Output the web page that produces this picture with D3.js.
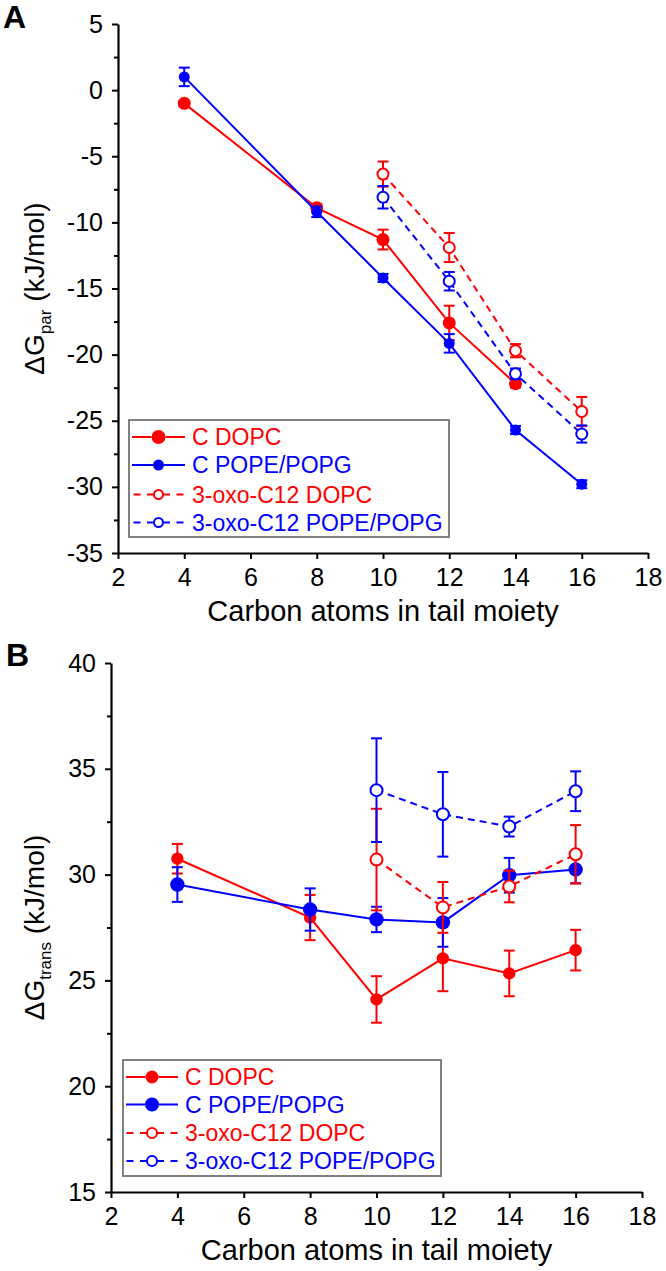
<!DOCTYPE html>
<html><head><meta charset="utf-8">
<script src="https://cdn.jsdelivr.net/npm/d3@7/dist/d3.min.js"></script>
<style>
body{margin:0;background:#fff}
text{font-family:"Liberation Sans",Arial,Helvetica,sans-serif}
</style>
</head><body>
<svg id="chart" width="666" height="1271" style="background:#fff"></svg>
<script>
// ---------- data ----------
const xTicks = [2, 4, 6, 8, 10, 12, 14, 16, 18];
const seriesNames = ["C DOPC", "C POPE/POPG", "3-oxo-C12 DOPC", "3-oxo-C12 POPE/POPG"];
const seriesColors = ["#ff0000", "#0000ff", "#ff0000", "#0000ff"];

// Panel A: ΔG_par (kJ/mol)
const parCDopcX   = [4, 8, 10, 12, 14];
const parCDopcY   = [-1.0, -8.9, -11.3, -17.6, -22.2];
const parCDopcErr = [0.2, 0.3, 0.75, 1.3, 0.3];
const parCPopeX   = [4, 8, 10, 12, 14, 16];
const parCPopeY   = [1.0, -9.2, -14.2, -19.15, -25.7, -29.8];
const parCPopeErr = [0.7, 0.4, 0.3, 0.7, 0.3, 0.3];
const parOxoDopcX   = [10, 12, 14, 16];
const parOxoDopcY   = [-6.35, -11.9, -19.7, -24.3];
const parOxoDopcErr = [0.95, 1.1, 0.5, 1.1];
const parOxoPopeX   = [10, 12, 14, 16];
const parOxoPopeY   = [-8.1, -14.45, -21.45, -26.0];
const parOxoPopeErr = [0.85, 0.7, 0.4, 0.65];
const parYTicks = [5, 0, -5, -10, -15, -20, -25, -30, -35];

// Panel B: ΔG_trans (kJ/mol)
const transCDopcX   = [4, 8, 10, 12, 14, 16];
const transCDopcY   = [30.75, 27.97, 24.1, 26.04, 25.33, 26.43];
const transCDopcErr = [0.7, 1.07, 1.1, 1.55, 1.08, 0.96];
const transCPopeX   = [4, 8, 10, 12, 14, 16];
const transCPopeY   = [29.53, 28.35, 27.88, 27.74, 29.97, 30.24];
const transCPopeErr = [0.82, 1.0, 0.6, 1.15, 0.82, 0.65];
const transOxoDopcX   = [10, 12, 14, 16];
const transOxoDopcY   = [30.71, 28.45, 29.44, 30.96];
const transOxoDopcErr = [2.4, 1.2, 0.75, 1.38];
const transOxoPopeX   = [10, 12, 14, 16];
const transOxoPopeY   = [33.99, 32.85, 32.27, 33.94];
const transOxoPopeErr = [2.45, 2.0, 0.47, 0.94];
const transYTicks = [15, 20, 25, 30, 35, 40];

// ---------- drawing ----------
const svg = d3.select("#chart");
const FONT = '"Liberation Sans",Arial,Helvetica,sans-serif';
const plainFmt = d => String(d);

function zip(xs, ys, es) { return xs.map((x, i) => ({x, y: ys[i], e: es[i]})); }

function drawPanel(cfg) {
  const g = svg.append("g");
  const x = d3.scaleLinear().domain([2, 18]).range(cfg.xRange);
  const y = d3.scaleLinear().domain(cfg.yDomain).range(cfg.yRange);

  // minor y ticks
  const minor = [];
  for (let i = 0; i < cfg.yTicks.length - 1; i++) {
    const a = Math.min(cfg.yTicks[i], cfg.yTicks[i+1]);
    minor.push(a + 2.5);
  }
  g.append("g").attr("transform", `translate(${cfg.xRange[0]},0)`)
    .call(d3.axisLeft(y).tickValues(minor).tickSize(4).tickFormat(""))
    .call(s => s.select(".domain").remove())
    .call(s => s.selectAll("line").attr("stroke", "#000").attr("stroke-width", 2));

  const ya = g.append("g").attr("transform", `translate(${cfg.xRange[0]},0)`)
    .call(d3.axisLeft(y).tickValues(cfg.yTicks).tickFormat(plainFmt).tickSize(6).tickSizeOuter(0).tickPadding(9));
  ya.select(".domain").attr("stroke-width", 2.2);
  ya.selectAll(".tick line").attr("stroke-width", 2);
  ya.selectAll("text").attr("font-size", 25).attr("font-family", FONT).attr("fill", "#000");

  const xa = g.append("g").attr("transform", `translate(0,${cfg.yRange[0]})`)
    .call(d3.axisBottom(x).tickValues(xTicks).tickFormat(plainFmt).tickSize(6).tickSizeOuter(0).tickPadding(9));
  xa.select(".domain").attr("stroke-width", 2.2);
  xa.selectAll(".tick line").attr("stroke-width", 2);
  xa.selectAll("text").attr("font-size", 25).attr("font-family", FONT).attr("fill", "#000");

  // axis titles
  g.append("text").attr("x", (cfg.xRange[0] + cfg.xRange[1]) / 2).attr("y", cfg.xTitleY)
    .attr("text-anchor", "middle").attr("font-size", 29).text("Carbon atoms in tail moiety");
  const yt = g.append("text")
    .attr("transform", `translate(${cfg.yTitleX},${(cfg.yRange[0] + cfg.yRange[1]) / 2}) rotate(-90)`)
    .attr("text-anchor", "middle").attr("font-size", 28);
  yt.append("tspan").text("\u0394G");
  yt.append("tspan").attr("font-size", 17).attr("dy", 7).text(cfg.sub);
  yt.append("tspan").attr("dy", -7).text(" (kJ/mol)");

  // panel letter
  g.append("text").attr("x", cfg.letterPos[0]).attr("y", cfg.letterPos[1])
    .attr("font-size", 32).attr("font-weight", "bold").text(cfg.letter);

  // series
  const line = d3.line().x(d => x(d.x)).y(d => y(d.y));
  cfg.series.forEach((s, i) => {
    const col = seriesColors[i];
    const dashed = i >= 2;
    const sg = g.append("g");
    sg.append("path").datum(s).attr("d", line).attr("fill", "none")
      .attr("stroke", col).attr("stroke-width", 2)
      .attr("stroke-dasharray", dashed ? "7,5" : null);
    // error bars
    const eb = sg.selectAll(".eb").data(s).enter().append("g");
    eb.append("line").attr("x1", d => x(d.x)).attr("x2", d => x(d.x))
      .attr("y1", d => y(d.y + d.e)).attr("y2", d => y(d.y - d.e))
      .attr("stroke", col).attr("stroke-width", 2);
    eb.append("line").attr("x1", d => x(d.x) - 5.5).attr("x2", d => x(d.x) + 5.5)
      .attr("y1", d => y(d.y + d.e)).attr("y2", d => y(d.y + d.e))
      .attr("stroke", col).attr("stroke-width", 2);
    eb.append("line").attr("x1", d => x(d.x) - 5.5).attr("x2", d => x(d.x) + 5.5)
      .attr("y1", d => y(d.y - d.e)).attr("y2", d => y(d.y - d.e))
      .attr("stroke", col).attr("stroke-width", 2);
    sg.selectAll("circle").data(s).enter().append("circle")
      .attr("cx", d => x(d.x)).attr("cy", d => y(d.y)).attr("r", cfg.radii[i])
      .attr("fill", dashed ? "#fff" : col).attr("stroke", col)
      .attr("stroke-width", dashed ? 2 : 0);
  });

  // legend
  const L = cfg.legend;
  const lg = g.append("g");
  lg.append("rect").attr("x", L.box[0]).attr("y", L.box[1]).attr("width", L.box[2]).attr("height", L.box[3])
    .attr("fill", "#fff").attr("stroke", "#808080").attr("stroke-width", 2);
  seriesNames.forEach((name, i) => {
    const col = seriesColors[i];
    const dashed = i >= 2;
    const ry = L.rows[i];
    const cx = (L.lineX[0] + L.lineX[1]) / 2;
    const r = L.radii[i];
    // two halves drawn outward from the marker so dashes touch it on both sides
    lg.append("line").attr("x1", cx - r).attr("x2", L.lineX[0]).attr("y1", ry).attr("y2", ry)
      .attr("stroke", col).attr("stroke-width", 2).attr("stroke-dasharray", dashed ? "7,6.5" : null);
    lg.append("line").attr("x1", cx + r).attr("x2", L.lineX[1]).attr("y1", ry).attr("y2", ry)
      .attr("stroke", col).attr("stroke-width", 2).attr("stroke-dasharray", dashed ? "7,6.5" : null);
    lg.append("circle").attr("cx", cx).attr("cy", ry).attr("r", r)
      .attr("fill", dashed ? "#fff" : col).attr("stroke", col).attr("stroke-width", dashed ? 2 : 0);
    lg.append("text").attr("x", L.textX).attr("y", ry).attr("dy", "0.36em")
      .attr("font-size", 23).attr("fill", col).text(name);
  });
}

drawPanel({
  letter: "A", letterPos: [3, 28], sub: "par",
  xRange: [118, 648], yDomain: [-35, 5], yRange: [553, 24], yTicks: parYTicks,
  xTitleY: 621, yTitleX: 44,
  radii: [6.5, 5.5, 5.5, 5.5],
  series: [zip(parCDopcX, parCDopcY, parCDopcErr), zip(parCPopeX, parCPopeY, parCPopeErr),
           zip(parOxoDopcX, parOxoDopcY, parOxoDopcErr), zip(parOxoPopeX, parOxoPopeY, parOxoPopeErr)],
  legend: {box: [129, 420, 320, 117], rows: [437, 465, 494.5, 522.5], lineX: [132, 185], textX: 192,
           radii: [7, 5.5, 4.5, 4.5]}
});

drawPanel({
  letter: "B", letterPos: [6, 666], sub: "trans",
  xRange: [111, 642], yDomain: [15, 40], yRange: [1192, 663], yTicks: transYTicks,
  xTitleY: 1260, yTitleX: 44,
  radii: [6.2, 7.2, 6, 6],
  series: [zip(transCDopcX, transCDopcY, transCDopcErr), zip(transCPopeX, transCPopeY, transCPopeErr),
           zip(transOxoDopcX, transOxoDopcY, transOxoDopcErr), zip(transOxoPopeX, transOxoPopeY, transOxoPopeErr)],
  legend: {box: [123, 1060, 318, 116], rows: [1077, 1104.5, 1133, 1161], lineX: [126, 178], textX: 185,
           radii: [6.5, 7, 5, 5]}
});
</script>
</body></html>
